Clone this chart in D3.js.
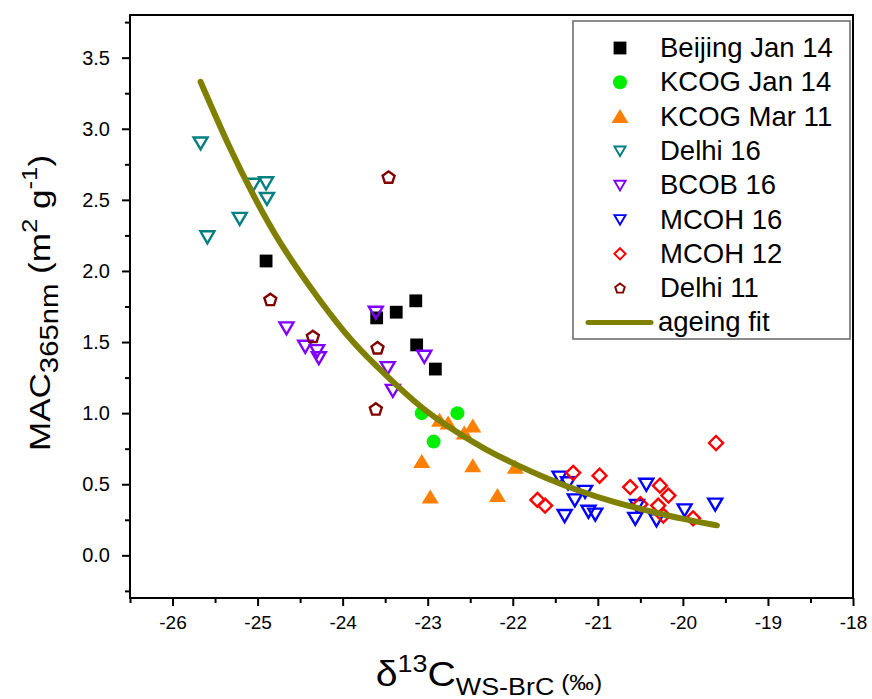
<!DOCTYPE html>
<html>
<head>
<meta charset="utf-8">
<script src="https://cdn.jsdelivr.net/npm/d3@7"></script>
<style>
  body { margin: 0; background: #fff; }
  text { font-family: Arial, "Liberation Sans", sans-serif; }
</style>
</head>
<body>
<div id="chart"></div>
<script>
// values: [delta13C, MAC365]
const beijingJan14 = [[-24.90,2.07],[-23.60,1.67],[-23.37,1.71],[-23.14,1.79],[-23.13,1.48],[-22.91,1.31]];
const kcogJan14 = [[-23.07,1.00],[-22.65,1.00],[-22.93,0.80]];
const kcogMar11 = [[-22.86,0.95],[-22.76,0.93],[-22.47,0.91],[-22.57,0.86],[-23.07,0.66],[-22.47,0.63],[-21.97,0.62],[-22.97,0.41],[-22.18,0.42]];
const delhi16 = [[-25.67,2.90],[-25.05,2.61],[-24.90,2.62],[-24.89,2.51],[-25.21,2.37],[-25.59,2.24]];
const bcob16 = [[-24.66,1.60],[-24.44,1.47],[-24.30,1.44],[-24.28,1.39],[-23.61,1.71],[-23.47,1.32],[-23.41,1.16],[-23.04,1.40]];
const mcoh16 = [[-21.45,0.55],[-21.35,0.51],[-21.27,0.39],[-21.15,0.45],[-21.39,0.28],[-21.11,0.31],[-21.03,0.29],
                [-20.43,0.50],[-20.54,0.35],[-20.56,0.26],[-20.31,0.25],[-19.98,0.32],[-19.62,0.36]];
const mcoh12 = [[-21.71,0.39],[-21.62,0.35],[-21.29,0.58],[-20.98,0.56],[-20.62,0.48],[-20.27,0.49],[-20.17,0.42],
                [-20.50,0.36],[-20.29,0.35],[-20.23,0.28],[-19.88,0.26],[-19.61,0.79]];
const delhi11 = [[-23.46,2.66],[-24.85,1.80],[-24.35,1.54],[-23.59,1.46],[-23.61,1.03]];
const ageingFit = [[-25.67,3.33],[-25.32,2.85],[-25.05,2.53],[-24.74,2.19],[-24.27,1.79],[-23.88,1.49],[-23.48,1.26],
                   [-23.09,1.04],[-22.70,0.88],[-22.31,0.74],[-21.99,0.645],[-21.60,0.54],[-21.21,0.45],[-20.82,0.375],
                   [-20.43,0.317],[-20.03,0.258],[-19.60,0.211]];

const xTicks = [-26,-25,-24,-23,-22,-21,-20,-19,-18];
const yTicks = [0.0,0.5,1.0,1.5,2.0,2.5,3.0,3.5];

const series = [
  {name:'Beijing Jan 14', data:beijingJan14, shape:'square', color:'#000000', fill:true},
  {name:'KCOG Jan 14', data:kcogJan14, shape:'circle', color:'#00ee00', fill:true},
  {name:'KCOG Mar 11', data:kcogMar11, shape:'up', color:'#ff7f00', fill:true},
  {name:'Delhi 16', data:delhi16, shape:'down', color:'#008080', fill:false},
  {name:'BCOB 16', data:bcob16, shape:'down', color:'#8000ff', fill:false},
  {name:'MCOH 16', data:mcoh16, shape:'down', color:'#0000ff', fill:false},
  {name:'MCOH 12', data:mcoh12, shape:'diamond', color:'#ff0000', fill:false},
  {name:'Delhi 11', data:delhi11, shape:'pentagon', color:'#800000', fill:false}
];

const width = 872, height = 699;
const plotLeft = 130, plotRight = 853, plotTop = 15, plotBottom = 598;

const svg = d3.select('#chart')
              .append('svg')
              .attr('width', width)
              .attr('height', height);

let scaleX = d3.scaleLinear().domain([-26.5,-18]).range([plotLeft,plotRight]);
let scaleY = d3.scaleLinear().domain([-0.3,3.8]).range([plotBottom,plotTop]);

// marker outlines, centred on the point
function shapePath(shape, k) {
  k = k || 1;
  let p;
  if (shape == 'square') { let s = 6.4*k; p = [[-s,-s],[s,-s],[s,s],[-s,s]]; }
  else if (shape == 'up') { p = [[0,-7.5*k],[8.5*k,6.5*k],[-8.5*k,6.5*k]]; }
  else if (shape == 'down') { p = [[-7*k,-5.5*k],[7*k,-5.5*k],[0,6.5*k]]; }
  else if (shape == 'diamond') { let s = 7*k; p = [[0,-s],[s,0],[0,s],[-s,0]]; }
  else if (shape == 'pentagon') {
    p = d3.range(5).map(i => {
      let a = -Math.PI/2 + i*2*Math.PI/5;
      return [6.3*k*Math.cos(a), 6.3*k*Math.sin(a) + 0.6*k];
    });
  }
  return 'M' + p.map(d => d.join(',')).join('L') + 'Z';
}

function drawMarker(g, s, k) {
  if (s.shape == 'circle') {
    g.append('circle').attr('r', 7*k).style('fill', s.color);
  } else {
    g.append('path')
     .attr('d', shapePath(s.shape, k))
     .style('fill', s.fill ? s.color : 'none')
     .style('stroke', s.fill ? 'none' : s.color)
     .style('stroke-width', 2.4*k)
     .style('stroke-linejoin', 'miter');
  }
}

// axes: major and minor ticks, outward
let xAxis = d3.axisBottom(scaleX).tickValues(xTicks).tickSize(8).tickPadding(10).tickFormat(d => String(d));
let xMinor = d3.axisBottom(scaleX).tickValues(d3.range(-26.5,-18,1)).tickSize(5).tickFormat('');
let yAxis = d3.axisLeft(scaleY).tickValues(yTicks).tickSize(8).tickPadding(12).tickFormat(d3.format('.1f'));
let yMinor = d3.axisLeft(scaleY).tickValues(d3.range(-0.25,3.8,0.5)).tickSize(5).tickFormat('');

[[xAxis,'x',19],[xMinor,'x',19],[yAxis,'y',20],[yMinor,'y',20]].forEach(([ax,t,fs]) => {
  let g = svg.append('g')
             .attr('transform', t == 'x' ? 'translate(0,' + plotBottom + ')' : 'translate(' + plotLeft + ',0)')
             .call(ax);
  g.select('.domain').remove();
  g.selectAll('line').style('stroke', '#000').style('stroke-width', 2);
  g.selectAll('text').style('font-size', fs + 'px').style('fill', '#000')
   .style('font-family', 'Arial, "Liberation Sans", sans-serif');
});

// markers
series.forEach(s => {
  svg.append('g').selectAll('g')
     .data(s.data)
     .enter()
     .append('g')
     .attr('transform', d => 'translate(' + scaleX(d[0]) + ',' + scaleY(d[1]) + ')')
     .each(function() { drawMarker(d3.select(this), s, 1); });
});

// fit line
let line = d3.line().x(d => scaleX(d[0])).y(d => scaleY(d[1])).curve(d3.curveBasis);
svg.append('path')
   .datum(ageingFit)
   .attr('d', line)
   .style('fill', 'none')
   .style('stroke', '#808000')
   .style('stroke-width', 6)
   .style('stroke-linecap', 'round');

// frame
svg.append('rect')
   .attr('x', plotLeft).attr('y', plotTop)
   .attr('width', plotRight-plotLeft).attr('height', plotBottom-plotTop)
   .style('fill', 'none')
   .style('stroke', '#000')
   .style('stroke-width', 2);

// legend
let legend = svg.append('g');
legend.append('rect')
      .attr('x', 573).attr('y', 21)
      .attr('width', 277).attr('height', 318)
      .style('fill', '#fff')
      .style('stroke', '#666')
      .style('stroke-width', 1.5);

let rowY = i => 48 + i*34.3;
series.forEach((s,i) => {
  let g = legend.append('g').attr('transform', 'translate(620,' + rowY(i) + ')');
  drawMarker(g, s, s.fill ? 1 : 0.8);
  legend.append('text')
        .attr('x', 660).attr('y', rowY(i) + 9)
        .style('font-size', '27.5px')
        .text(s.name);
});
legend.append('line')
      .attr('x1', 588).attr('x2', 651)
      .attr('y1', rowY(8)).attr('y2', rowY(8))
      .style('stroke', '#808000').style('stroke-width', 5).style('stroke-linecap', 'round');
legend.append('text')
      .attr('x', 658).attr('y', rowY(8) + 9)
      .style('font-size', '27.5px')
      .text('ageing fit');

// axis titles
let yTitle = svg.append('text')
                .attr('transform', 'translate(50,303) rotate(-90) scale(1.17,1)')
                .style('text-anchor', 'middle')
                .style('font-size', '30px');
yTitle.append('tspan').text('MAC');
yTitle.append('tspan').attr('dy', 8).style('font-size', '25px').text('365nm');
yTitle.append('tspan').attr('dy', -8).text(' (m');
yTitle.append('tspan').attr('dy', -13).style('font-size', '22px').text('2');
yTitle.append('tspan').attr('dy', 13).text(' g');
yTitle.append('tspan').attr('dy', -13).style('font-size', '22px').text('-1');
yTitle.append('tspan').attr('dy', 13).text(')');

let xTitle = svg.append('text')
                .attr('transform', 'translate(489,686) scale(1.12,1)')
                .style('text-anchor', 'middle')
                .style('font-size', '35px');
xTitle.append('tspan').text('\u03B4');
xTitle.append('tspan').attr('dy', -14).style('font-size', '24px').text('13');
xTitle.append('tspan').attr('dy', 14).text('C');
xTitle.append('tspan').attr('dy', 9).style('font-size', '24px').text('WS-BrC');
xTitle.append('tspan').attr('dy', -5).style('font-size', '22px').text(' (\u2030)');
</script>
</body>
</html>
